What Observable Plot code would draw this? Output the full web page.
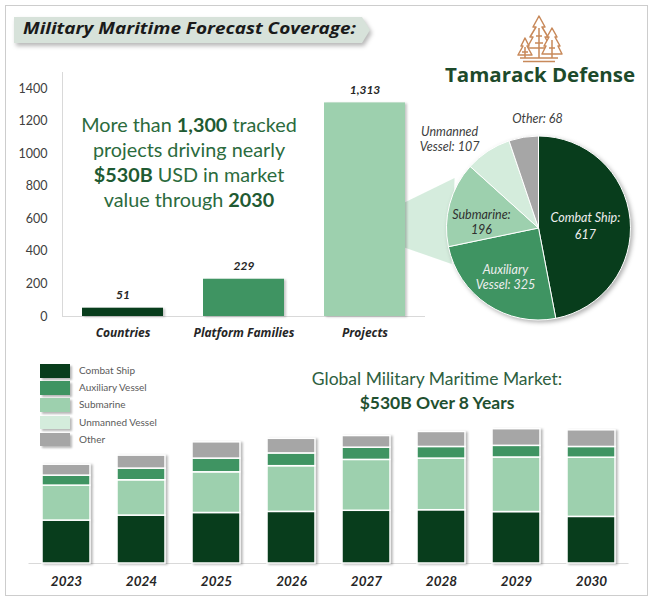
<!DOCTYPE html>
<html><head><meta charset="utf-8">
<script src="https://cdn.jsdelivr.net/npm/d3@7"></script>
<script src="https://cdn.jsdelivr.net/npm/@observablehq/plot@0.6"></script>
<style>
html,body{margin:0;padding:0;background:#fff;}
#root{position:relative;width:654px;height:599px;overflow:hidden;font-family:Lato,sans-serif;}
.abs{position:absolute;}
#frame{left:5px;top:5px;width:643px;height:591px;border:1.5px solid #cdcdcd;box-sizing:border-box;}
#topChart{left:0;top:0;}
#bottomChart{left:0;top:400px;}
#overlay{left:0;top:0;z-index:5;pointer-events:none;}
#note{left:44px;top:111.5px;width:290px;text-align:center;font-size:19.8px;line-height:25px;color:#2b6b3d;z-index:6;}
#note b{font-weight:700;color:#1f5a32;}
#marketTitle{left:287px;top:367px;width:300px;text-align:center;font-size:17.5px;line-height:23.5px;color:#2e6040;z-index:6;}
#marketTitle b{font-weight:700;color:#1f5030;}
#legend{left:40px;top:364px;z-index:6;}
.lrow{position:relative;height:17.2px;}
.sw{position:absolute;left:0;top:0;width:30px;height:13.5px;box-shadow:2px 2px 2px rgba(0,0,0,0.28);}
.lt{position:absolute;left:39px;top:0;line-height:13.5px;font-size:10px;color:#5a5a5a;white-space:nowrap;}
#bottomChart g[aria-label="bar"]{filter:drop-shadow(2.5px 1px 1px rgba(0,0,0,0.28));}
#topChart g[aria-label="bar"]{filter:drop-shadow(2.5px 1px 1px rgba(0,0,0,0.22));}
</style>
</head><body>
<div id="root">
  <div id="frame" class="abs"></div>
  <div id="topChart" class="abs"></div>
  <div id="bottomChart" class="abs"></div>
  <svg id="overlay" class="abs" width="654" height="599"></svg>
  <div id="note" class="abs">More than <b>1,300</b> tracked<br>projects driving nearly<br><b>$530B</b> USD in market<br>value through <b>2030</b></div>
  <div id="marketTitle" class="abs">Global Military Maritime Market:<br><b>$530B Over 8 Years</b></div>
  <div id="legend" class="abs"></div>
</div>
<script>
// ---------- data ----------
const overviewCategories = ["Countries", "Platform Families", "Projects"];
const overviewValues = [51, 229, 1313];
const overviewLabels = ["51", "229", "1,313"];
const overviewColors = ["#083d1c", "#3f9462", "#9dd0ae"];
const yTicks = [0, 200, 400, 600, 800, 1000, 1200, 1400];

const pieCategories = ["Combat Ship", "Auxiliary Vessel", "Submarine", "Unmanned Vessel", "Other"];
const pieValues = [617, 325, 196, 107, 68];
const pieColors = ["#083d1c", "#3f9462", "#9dd0ae", "#d4ecdc", "#a6a6a6"];

const years = ["2023", "2024", "2025", "2026", "2027", "2028", "2029", "2030"];
const combatShip      = [23.2, 25.9, 27.3, 27.9, 28.5, 28.8, 27.8, 25.2];
const submarine       = [18.9, 19.1, 22.0, 24.7, 27.5, 27.9, 29.5, 32.0];
const auxiliaryVessel = [5.4, 6.3, 7.4, 6.9, 6.6, 6.3, 6.3, 5.8];
const other           = [5.9, 7.0, 8.8, 7.9, 6.3, 8.1, 9.0, 9.0];
const stackOrder = ["Combat Ship", "Submarine", "Auxiliary Vessel", "Other"];
const stackSeries = {"Combat Ship": combatShip, "Submarine": submarine, "Auxiliary Vessel": auxiliaryVessel, "Other": other};

// ---------- layout ----------
const PIE = {cx: 538.5, cy: 228, r: 92};
const pieLabelR = [47, 59.5, 57.3, 125.7, 109];
const pieLabelShift = [3, 0, -9.7, -11.7, 8.8];
const pieLabelLH = [17, 15, 15, 15, 15];
const pieLabelFill = ["#eeeeee", "#eeeeee", "#303030", "#404040", "#404040"];
const pieLabelText = [
  `Combat Ship:\n${pieValues[0]}`,
  `Auxiliary\nVessel: ${pieValues[1]}`,
  `Submarine:\n${pieValues[2]}`,
  `Unmanned\nVessel: ${pieValues[3]}`,
  `Other: ${pieValues[4]}`
];

const overview = overviewCategories.map((c, i) => ({category: c, value: overviewValues[i], label: overviewLabels[i]}));

function bw(s) { return typeof s.bandwidth === "function" ? s.bandwidth() : s.bandwidth; }

function connectorMark(index, scales) {
  const x0 = scales.x("Projects") + bw(scales.x);
  const yA = scales.y(700), yB = scales.y(420);
  const a1 = -59.2 * Math.PI / 180, a2 = -112.5 * Math.PI / 180;
  const p1 = [PIE.cx + 97.7 * Math.sin(a1), PIE.cy - 97.7 * Math.cos(a1)];
  const p2 = [PIE.cx + 94 * Math.sin(a2), PIE.cy - 94 * Math.cos(a2)];
  const g = d3.create("svg:g");
  g.append("path")
    .attr("d", `M${x0},${yA}L${p1[0]},${p1[1]}L${p2[0]},${p2[1]}L${x0},${yB}Z`)
    .attr("fill", "#b3dcc1").attr("fill-opacity", 0.55);
  return g.node();
}

function pieMark() {
  const g = d3.create("svg:g").attr("transform", `translate(${PIE.cx},${PIE.cy})`);
  const arcs = d3.pie().sort(null)(pieValues);
  const arc = d3.arc().innerRadius(0).outerRadius(PIE.r);
  g.append("g").style("filter", "drop-shadow(2px 2px 2px rgba(0,0,0,0.3))")
    .selectAll("path").data(arcs).join("path")
    .attr("d", arc).attr("fill", (d, i) => pieColors[i])
    .attr("stroke", "#fff").attr("stroke-width", 1);
  const lab = g.append("g").attr("font-family", "Lato, sans-serif").attr("font-size", 12.5)
    .attr("font-style", "italic").attr("text-anchor", "middle");
  arcs.forEach((d, i) => {
    const a = (d.startAngle + d.endAngle) / 2 + pieLabelShift[i] * Math.PI / 180;
    const x = pieLabelR[i] * Math.sin(a), y = -pieLabelR[i] * Math.cos(a);
    const lines = pieLabelText[i].split("\n");
    const t = lab.append("text").attr("fill", pieLabelFill[i]);
    lines.forEach((ln, k) => {
      t.append("tspan").attr("x", x)
        .attr("y", y + (k - (lines.length - 1) / 2) * pieLabelLH[i])
        .attr("dy", "0.35em").text(ln);
    });
  });
  return g.node();
}

const topPlot = Plot.plot({
  width: 654, height: 350,
  marginLeft: 62, marginRight: 229, marginTop: 72, marginBottom: 34,
  style: {background: "transparent", fontFamily: "Lato, sans-serif", overflow: "visible"},
  x: {domain: overviewCategories, paddingInner: 0.33, paddingOuter: 0.165, axis: null, label: null},
  y: {domain: [0, 1500], axis: null, label: null},
  color: {domain: overviewCategories, range: overviewColors},
  marks: [
    Plot.frame({anchor: "left", stroke: "#d9d9d9"}),
    Plot.axisY({ticks: yTicks, tickSize: 0, tickPadding: 15, fontSize: 12.5, color: "#404040", label: null, tickFormat: d => String(d)}),
    Plot.axisX({tickSize: 0, tickPadding: 12, fontSize: 12, fontFamily: "Open Sans, sans-serif", fontWeight: "bold", fontStyle: "italic", color: "#262626", label: null}),
    connectorMark,
    Plot.ruleY([0], {stroke: "#d9d9d9", strokeWidth: 1.2}),
    Plot.barY(overview, {x: "category", y: "value", fill: "category"}),
    Plot.text(overview, {x: "category", y: "value", text: "label", dy: -9, lineAnchor: "bottom",
      fontSize: 12, fontWeight: "bold", fontStyle: "italic", fill: "#262626"}),
    pieMark
  ]
});
document.getElementById("topChart").appendChild(topPlot);

const stackRows = [];
stackOrder.forEach(s => years.forEach((y, i) => stackRows.push({year: y, type: s, value: stackSeries[s][i]})));

const bottomPlot = Plot.plot({
  width: 654, height: 200,
  marginLeft: 28.5, marginRight: 25.5, marginTop: 15, marginBottom: 37,
  style: {background: "transparent", fontFamily: "Lato, sans-serif", overflow: "visible"},
  x: {domain: years, paddingInner: 0.36, paddingOuter: 0.18, axis: null, label: null},
  y: {domain: [0, 80], axis: null, label: null},
  color: {domain: pieCategories, range: pieColors},
  marks: [
    Plot.ruleY([0], {stroke: "#d9d9d9", strokeWidth: 1.2}),
    Plot.barY(stackRows, {x: "year", y: "value", fill: "type", order: stackOrder, stroke: "#fff", strokeWidth: 1.5}),
    Plot.axisX({tickSize: 0, tickPadding: 13, fontSize: 13.5, fontWeight: "bold", fontStyle: "italic", color: "#262626", label: null})
  ]
});
document.getElementById("bottomChart").appendChild(bottomPlot);

// legend
const legend = d3.select("#legend");
pieCategories.forEach((c, i) => {
  const row = legend.append("div").attr("class", "lrow");
  row.append("div").attr("class", "sw").style("background", pieColors[i]);
  row.append("div").attr("class", "lt").text(c);
});

// overlay: title banner and logo
const ov = d3.select("#overlay");
ov.append("polygon").attr("points", "14,17 362,17 370,30 362,43 14,43")
  .attr("fill", "#d7e2da").style("filter", "drop-shadow(2px 3px 2px rgba(0,0,0,0.28))");
ov.append("text").attr("x", 23).attr("y", 34).attr("font-family", "Open Sans, sans-serif")
  .attr("font-weight", 700).attr("font-style", "italic").attr("font-size", 15.5)
  .attr("fill", "#1a1a1a").attr("textLength", 333).attr("lengthAdjust", "spacingAndGlyphs")
  .text("Military Maritime Forecast Coverage:");
const tree = ov.append("g").attr("fill", "#fff").attr("stroke", "#c8895a").attr("stroke-width", 1.5).attr("stroke-linejoin", "round");
tree.append("path").attr("d", "M539,16 L533,27 L536,27 L530,37 L533,37 L527,48 L551,48 L545,37 L548,37 L542,27 L545,27 Z");
tree.append("path").attr("d", "M552,28 L547,37 L549,37 L544,46 L546,46 L542,54 L562,54 L558,46 L560,46 L555,37 L557,37 Z");
tree.append("path").attr("d", "M525,38 L521,46 L523,46 L518,55 L532,55 L527,46 L529,46 Z");
tree.append("path").attr("fill", "none").attr("d", "M539,28 V58 M536,36 H542 M535,43 H543 M552,40 V58 M549,48 H555 M525,47 V58 M522,52 H528 M520,58 H558 M523,61.5 H555");
ov.append("text").attr("x", 445).attr("y", 81.5).attr("font-family", "Open Sans, sans-serif")
  .attr("font-weight", 700).attr("font-size", 19.5).attr("fill", "#1d4a2b")
  .attr("textLength", 190).attr("lengthAdjust", "spacingAndGlyphs")
  .text("Tamarack Defense");
</script>
</body></html>
